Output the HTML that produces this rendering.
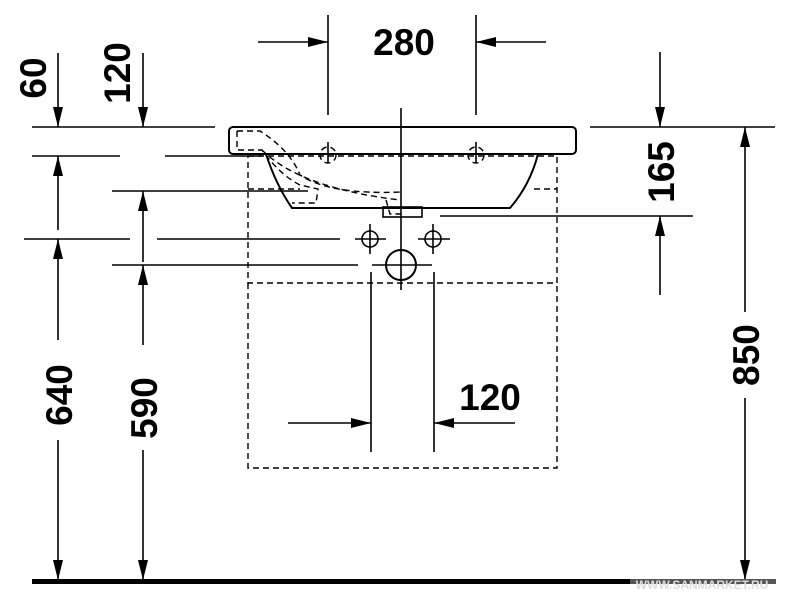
<!DOCTYPE html>
<html><head><style>body{margin:0;background:#fff}svg{display:block}</style></head><body>
<svg width="792" height="599" viewBox="0 0 792 599" xmlns="http://www.w3.org/2000/svg">
<defs>
<marker id="a" viewBox="0 0 10 10" refX="10" refY="5" markerWidth="20" markerHeight="10" markerUnits="userSpaceOnUse" orient="auto" preserveAspectRatio="none"><path d="M0,0 L10,5 L0,10 z" fill="#000"/></marker>
</defs>
<g stroke="#000" stroke-width="1.6" fill="none">
<line x1="32" y1="127" x2="215" y2="127"/>
<line x1="590" y1="127" x2="775" y2="127"/>
<line x1="32" y1="156" x2="120" y2="156"/>
<line x1="165" y1="156" x2="262" y2="156"/>
<line x1="112" y1="191" x2="308" y2="191"/>
<line x1="24" y1="239" x2="130" y2="239"/>
<line x1="157" y1="239" x2="340" y2="239"/>
<line x1="112" y1="265" x2="358" y2="265"/>
<line x1="440" y1="216" x2="693" y2="216"/>
<line x1="328" y1="15" x2="328" y2="115"/>
<line x1="476" y1="15" x2="476" y2="115"/>
<line x1="371" y1="272" x2="371" y2="452"/>
<line x1="434" y1="272" x2="434" y2="452"/>
<line x1="401" y1="108" x2="401" y2="290"/>
<line x1="258" y1="42" x2="328" y2="42" marker-end="url(#a)"/>
<line x1="546" y1="42" x2="476" y2="42" marker-end="url(#a)"/>
<line x1="288" y1="423" x2="371" y2="423" marker-end="url(#a)"/>
<line x1="515" y1="423" x2="434" y2="423" marker-end="url(#a)"/>
<line x1="58" y1="53" x2="58" y2="127" marker-end="url(#a)"/>
<line x1="58" y1="230" x2="58" y2="156" marker-end="url(#a)"/>
<line x1="58" y1="340" x2="58" y2="239" marker-end="url(#a)"/>
<line x1="58" y1="440" x2="58" y2="580" marker-end="url(#a)"/>
<line x1="143" y1="53" x2="143" y2="127" marker-end="url(#a)"/>
<line x1="143" y1="262" x2="143" y2="191" marker-end="url(#a)"/>
<line x1="143" y1="345" x2="143" y2="265" marker-end="url(#a)"/>
<line x1="143" y1="450" x2="143" y2="580" marker-end="url(#a)"/>
<line x1="660" y1="52" x2="660" y2="127" marker-end="url(#a)"/>
<line x1="660" y1="295" x2="660" y2="216" marker-end="url(#a)"/>
<line x1="745" y1="312" x2="745" y2="127" marker-end="url(#a)"/>
<line x1="745" y1="398" x2="745" y2="580" marker-end="url(#a)"/>
<rect x="229" y="127" width="347" height="27" rx="4" stroke-width="2"/>
<path d="M266,154 Q276,185 292,208 L510,208 Q530,185 538,154" stroke-width="2"/>
<rect x="383" y="207" width="39" height="10" stroke-width="1.6"/>
<circle cx="370" cy="239" r="8"/><circle cx="433" cy="239" r="8"/>
<line x1="355" y1="239" x2="386" y2="239"/><line x1="370" y1="224" x2="370" y2="254"/>
<line x1="418" y1="239" x2="450" y2="239"/><line x1="433" y1="224" x2="433" y2="254"/>
<circle cx="401" cy="265" r="15" stroke-width="2"/>
<line x1="372" y1="265" x2="432" y2="265"/>
<line x1="328" y1="142" x2="328" y2="163"/><line x1="316" y1="154" x2="342" y2="154"/>
<line x1="476" y1="142" x2="476" y2="163"/><line x1="462" y1="154" x2="488" y2="154"/>
</g>
<g stroke="#000" stroke-width="1.4" fill="none" stroke-dasharray="6,4">
<rect x="248" y="156" width="309" height="127"/>
<polyline points="248,283 248,468 557,468 557,283"/>
<line x1="248" y1="189" x2="300" y2="189"/>
<line x1="534" y1="189" x2="557" y2="189"/>
<path d="M237,131 L260,131 Q290,150 300,175 Q330,195 401,192"/>
<path d="M237,131 L237,150 L262,150 Q280,175 300,185 L318,189 L316,203 L292,203"/>
<path d="M262,150 Q300,188 400,200"/>
<path d="M386,200 L390,214 L401,214"/>
<circle cx="328" cy="155" r="8"/><circle cx="476" cy="155" r="8"/>
</g>
<rect x="32" y="579" width="743" height="5" fill="#000"/>
<rect x="630" y="579" width="146" height="5" fill="#555"/>
<text x="702" y="589" font-family="Liberation Sans,sans-serif" font-size="12" font-weight="bold" fill="#ddd" text-anchor="middle">WWW.SANMARKET.RU</text>
<g font-family="Liberation Sans,sans-serif" font-size="37" font-weight="bold" fill="#000" text-anchor="middle">
<text x="404" y="55">280</text>
<text x="490" y="410">120</text>
<text transform="translate(46,78) rotate(-90)">60</text>
<text transform="translate(130,73) rotate(-90)">120</text>
<text transform="translate(72,395) rotate(-90)">640</text>
<text transform="translate(157,408) rotate(-90)">590</text>
<text transform="translate(674,172) rotate(-90)">165</text>
<text transform="translate(759,355) rotate(-90)">850</text>
</g>
</svg>
</body></html>
